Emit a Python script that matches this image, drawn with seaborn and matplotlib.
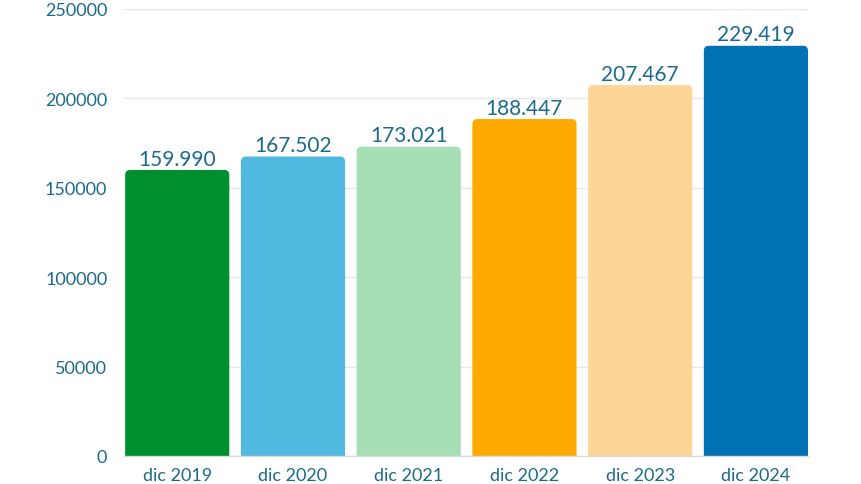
import matplotlib
matplotlib.use("Agg")
import matplotlib.pyplot as plt
import seaborn as sns
import pandas as pd
from matplotlib.patches import FancyBboxPatch

categories = ["dic 2019", "dic 2020", "dic 2021", "dic 2022", "dic 2023", "dic 2024"]
values = [159990, 167502, 173021, 188447, 207467, 229419]
labels = ["159.990", "167.502", "173.021", "188.447", "207.467", "229.419"]
colors = ["#008f2f", "#4fb9df", "#a5dfb3", "#fea900", "#fdd697", "#0071b3"]
yticks = [0, 50000, 100000, 150000, 200000, 250000]

sns.set_style("white")
plt.rcParams["font.family"] = ["Lato", "DejaVu Sans"]
text_color = "#1b6a8c"

df = pd.DataFrame({"cat": categories, "val": values})

fig = plt.figure(figsize=(8.62, 4.85), dpi=100)
ax = fig.add_axes([124 / 862, 28 / 485, 684 / 862, 447 / 485])
sns.barplot(data=df, x="cat", y="val", hue="cat", palette=colors, legend=False,
            width=0.9, saturation=1, ax=ax, zorder=3)

ax.set_xlim(-0.46, 5.45)
ax.set_ylim(0, 250000)
ax.set_yticks(yticks)
ax.set_yticklabels([str(t) for t in yticks])

# rounded top corners: replace each bar with a rounded box whose bottom is clipped
fig.canvas.draw()
bbox = ax.get_window_extent()
x_per_px = (ax.get_xlim()[1] - ax.get_xlim()[0]) / bbox.width
y_per_px = (ax.get_ylim()[1] - ax.get_ylim()[0]) / bbox.height
aspect = y_per_px / x_per_px
r = 5 * x_per_px
for p in list(ax.patches):
    x, w, h = p.get_x(), p.get_width(), p.get_height()
    fc = p.get_facecolor()
    p.remove()
    ext = 8 * y_per_px
    fb = FancyBboxPatch((x, -ext), w, h + ext,
                        boxstyle=f"round,pad=0,rounding_size={r}",
                        mutation_aspect=aspect, facecolor=fc, edgecolor="none",
                        zorder=3, clip_on=True)
    ax.add_patch(fb)

for i, (v, lab) in enumerate(zip(values, labels)):
    ax.annotate(lab, (i, v), xytext=(0, 1), textcoords="offset points",
                ha="center", va="bottom", fontsize=15, color=text_color)

ax.grid(axis="y", color="#e8e8e8", linewidth=1, zorder=0)
ax.grid(axis="x", visible=False)
for s in ["top", "right", "left"]:
    ax.spines[s].set_visible(False)
ax.spines["bottom"].set_color("#d9d9d9")
ax.spines["bottom"].set_linewidth(1)
ax.spines["bottom"].set_zorder(4)
ax.tick_params(axis="both", length=0, labelsize=13, labelcolor=text_color)
ax.tick_params(axis="y", pad=12)
ax.tick_params(axis="x", pad=8)
ax.set_xlabel("")
ax.set_ylabel("")

fig.savefig("out.png", dpi=100, facecolor="white")
